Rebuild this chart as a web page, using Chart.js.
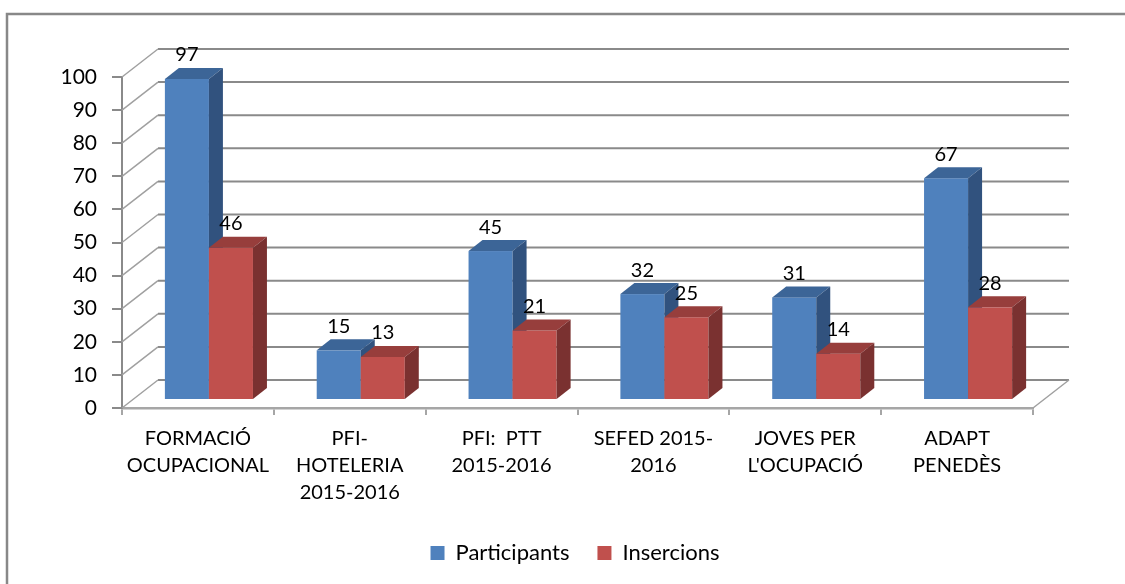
<!DOCTYPE html>
<html><head><meta charset="utf-8">
<script src="https://cdn.jsdelivr.net/npm/chart.js@4/dist/chart.umd.min.js"></script>
<style>html,body{margin:0;padding:0;background:#fff;}#wrap{width:1125px;height:584px;position:relative;background:#fff;}</style>
</head><body><div id="wrap"><canvas id="c" width="1125" height="584"></canvas></div>
<script>
const categories = [['FORMACIÓ','OCUPACIONAL'],['PFI-','HOTELERIA','2015-2016'],['PFI:  PTT','2015-2016'],['SEFED 2015-','2016'],['JOVES PER',"L'OCUPACIÓ"],['ADAPT','PENEDÈS']];
const participants = [97, 15, 45, 32, 31, 67];
const insercions = [46, 13, 21, 25, 14, 28];
const seriesNames = ['Participants', 'Insercions'];
const yMin = 0, yMax = 100, yStep = 10;

const OX = 11, OY = -8;     // bar plane offset from front plane
const DX = 14, DY = -11;    // bar depth
const WX = 36, WY = -28;    // back wall offset
const shades = [
  {front:'#4F81BD', top:'#3C6597', side:'#31527E'},
  {front:'#C0504D', top:'#973E3C', side:'#7A3130'}
];

const plugin3d = {
  id: 'bars3d',
  beforeDraw(chart) {
    const ctx = chart.ctx;
    ctx.save();
    ctx.strokeStyle = '#888';
    ctx.lineWidth = 2.5;
    ctx.strokeRect(7, 14, 1200, 700);
    ctx.restore();
  },
  beforeDatasetsDraw(chart) {
    const {ctx, chartArea: a, scales: {y}} = chart;
    ctx.save();
    for (let v = yMin; v <= yMax; v += yStep) {
      const py = y.getPixelForValue(v);
      ctx.strokeStyle = '#8a8a8a'; ctx.lineWidth = 2;
      ctx.beginPath(); ctx.moveTo(a.left + WX, py + WY); ctx.lineTo(a.right + WX, py + WY); ctx.stroke();
      ctx.strokeStyle = '#a0a0a0'; ctx.lineWidth = 1.5;
      ctx.beginPath(); ctx.moveTo(a.left, py); ctx.lineTo(a.left + WX, py + WY); ctx.stroke();
    }
    ctx.strokeStyle = '#a0a0a0'; ctx.lineWidth = 1.5;
    ctx.beginPath(); ctx.moveTo(a.right, a.bottom); ctx.lineTo(a.right + WX, a.bottom + WY); ctx.stroke();
    ctx.restore();
  },
  beforeDatasetDraw() { return false; },
  afterDatasetsDraw(chart) {
    const ctx = chart.ctx;
    const metas = chart.data.datasets.map((d, i) => chart.getDatasetMeta(i));
    ctx.save();
    for (let j = 0; j < categories.length; j++) {
      metas.forEach((meta, i) => {
        const el = meta.data[j];
        const p = el.getProps(['x', 'y', 'base', 'width'], true);
        const l = p.x - p.width / 2 + OX, r = p.x + p.width / 2 + OX;
        const t = p.y + OY, b = p.base + OY;
        const c = shades[i];
        ctx.fillStyle = c.front; ctx.fillRect(l, t, r - l, b - t);
        ctx.fillStyle = c.top; ctx.beginPath();
        ctx.moveTo(l, t); ctx.lineTo(l + DX, t + DY); ctx.lineTo(r + DX, t + DY); ctx.lineTo(r, t); ctx.closePath(); ctx.fill();
        ctx.fillStyle = c.side; ctx.beginPath();
        ctx.moveTo(r, t); ctx.lineTo(r + DX, t + DY); ctx.lineTo(r + DX, b + DY); ctx.lineTo(r, b); ctx.closePath(); ctx.fill();
      });
    }
    ctx.font = '20px Lato';
    ctx.fillStyle = '#000';
    ctx.textAlign = 'center';
    ctx.textBaseline = 'middle';
    metas.forEach((meta, i) => {
      meta.data.forEach((el, j) => {
        const p = el.getProps(['x', 'y'], true);
        ctx.fillText(String(chart.data.datasets[i].data[j]), p.x + OX, p.y + OY - 24);
      });
    });
    ctx.restore();
  }
};

function draw() {
  Chart.defaults.color = '#000';
  Chart.defaults.font.family = 'Lato';
  new Chart(document.getElementById('c'), {
    type: 'bar',
    data: {
      labels: categories,
      datasets: [
        {label: seriesNames[0], data: participants, backgroundColor: shades[0].front, borderWidth: 0},
        {label: seriesNames[1], data: insercions, backgroundColor: shades[1].front, borderWidth: 0}
      ]
    },
    options: {
      responsive: false,
      animation: false,
      devicePixelRatio: 1,
      categoryPercentage: 0.58,
      barPercentage: 1.0,
      layout: {padding: {left: 25, right: 0, top: 77, bottom: 10}},
      plugins: {
        legend: {
          position: 'bottom',
          labels: {boxWidth: 14, boxHeight: 14, padding: 28, font: {family: 'Lato', size: 22}, color: '#000'}
        },
        tooltip: {enabled: false}
      },
      scales: {
        x: {
          grid: {drawOnChartArea: false, drawTicks: true, tickLength: 7, color: '#a6a6a6', lineWidth: 2, offset: true},
          border: {color: '#a6a6a6', width: 2.5},
          ticks: {font: {family: 'Lato', size: 20, lineHeight: 1.35}, color: '#000', padding: 10, maxRotation: 0, autoSkip: false},
          afterFit(s) { s.height = 106; }
        },
        y: {
          min: yMin, max: yMax,
          ticks: {stepSize: yStep, font: {family: 'Lato', size: 21}, color: '#000', padding: 15},
          grid: {drawOnChartArea: false, drawTicks: true, tickLength: 10, color: '#8a8a8a', lineWidth: 2},
          border: {color: '#8a8a8a', width: 2},
          afterFit(s) { s.width = 97; }
        },
        y2: {
          position: 'right', display: true,
          grid: {display: false}, ticks: {display: false}, border: {display: false},
          afterFit(s) { s.width = 92; }
        }
      }
    },
    plugins: [plugin3d]
  });
}
if (document.fonts && document.fonts.load) {
  document.fonts.load('20px Lato').then(draw, draw);
} else { draw(); }
</script>
</body></html>
